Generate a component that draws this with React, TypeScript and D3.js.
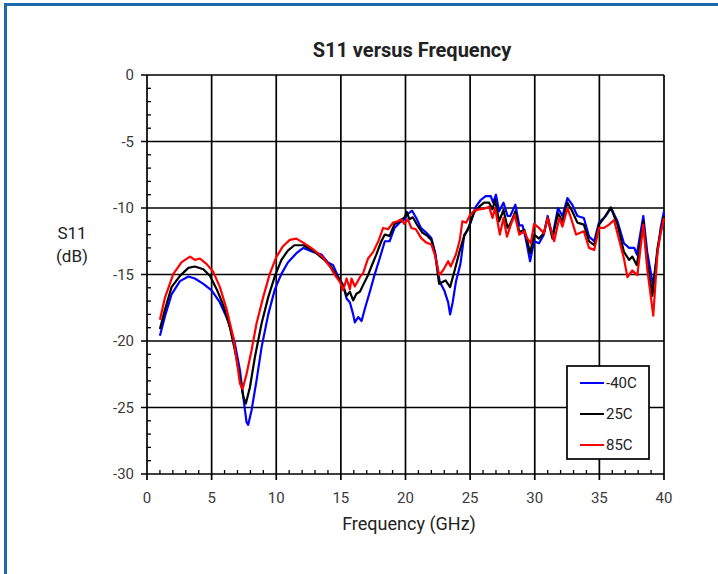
import React, { useRef, useEffect } from 'react';
import * as d3 from 'd3';

// [frequency GHz, S11 dB]
const seriesMinus40: [number, number][] = [
  [1.0, -19.6], [1.4, -18.1], [1.9, -16.5], [2.55, -15.5], [3.2, -15.15], [3.7, -15.3],
  [4.36, -15.7], [5.0, -16.2], [5.64, -17.1], [6.29, -18.5], [6.8, -20.2], [7.19, -22.2],
  [7.45, -24.2], [7.7, -26.1], [7.83, -26.3], [8.09, -25.2], [8.47, -23.0], [8.86, -20.5],
  [9.38, -18.0], [9.9, -16.1], [10.4, -14.95], [10.9, -14.1], [11.56, -13.4], [12.1, -13.0],
  [12.85, -13.3], [13.5, -13.5], [14.0, -14.1], [14.4, -14.3], [14.8, -15.2], [15.18, -15.8],
  [15.44, -16.8], [15.7, -17.1], [15.95, -18.0], [16.08, -18.6], [16.34, -18.2], [16.6, -18.5],
  [16.85, -17.6], [17.24, -16.3], [17.6, -15.05], [18.0, -13.8], [18.4, -12.5], [18.77, -12.5],
  [19.15, -11.5], [19.54, -11.1], [19.93, -10.85], [20.18, -10.45], [20.5, -10.2], [20.8, -10.7],
  [21.2, -11.5], [21.6, -11.85], [22.0, -12.25], [22.3, -13.4], [22.65, -15.55], [23.0, -16.2],
  [23.3, -17.1], [23.45, -18.0], [23.65, -17.1], [23.9, -15.55], [24.25, -14.2], [24.55, -12.0],
  [24.8, -11.7], [25.05, -11.0], [25.44, -9.9], [25.82, -9.4], [26.2, -9.1], [26.6, -9.1],
  [26.78, -9.6], [27.0, -9.0], [27.24, -10.25], [27.58, -9.6], [27.9, -10.6], [28.1, -10.6],
  [28.5, -9.75], [28.8, -11.3], [29.05, -11.3], [29.3, -12.3], [29.64, -14.0], [29.95, -12.5],
  [30.33, -12.65], [30.7, -12.0], [31.0, -10.6], [31.37, -12.15], [31.8, -10.0], [32.14, -10.6],
  [32.53, -9.25], [32.9, -9.75], [33.3, -10.6], [33.8, -10.75], [34.2, -12.15], [34.6, -12.5],
  [34.97, -11.1], [35.5, -10.6], [35.9, -10.0], [36.4, -11.0], [36.9, -12.65], [37.3, -13.0],
  [37.7, -13.0], [37.9, -13.5], [38.4, -10.6], [38.7, -13.3], [39.15, -15.8], [39.5, -13.3],
  [39.74, -11.5], [40.0, -10.25]
];

const series25: [number, number][] = [
  [1.0, -19.1], [1.4, -17.6], [1.9, -15.95], [2.55, -15.1], [3.2, -14.5], [3.7, -14.4],
  [4.36, -14.6], [4.87, -15.1], [5.39, -16.1], [5.9, -17.3], [6.42, -19.0], [6.8, -20.7],
  [7.19, -22.7], [7.45, -24.2], [7.65, -24.7], [7.96, -23.5], [8.35, -21.2], [8.86, -18.7],
  [9.38, -16.7], [9.9, -15.1], [10.4, -13.9], [10.9, -13.2], [11.4, -12.8], [12.1, -12.8],
  [12.85, -13.2], [13.6, -13.8], [14.15, -14.3], [14.54, -14.9], [14.92, -15.4], [15.18, -15.9],
  [15.44, -16.6], [15.7, -16.3], [15.95, -16.95], [16.2, -16.45], [16.47, -16.3], [16.72, -15.8],
  [17.1, -15.05], [17.36, -14.4], [17.74, -13.5], [18.13, -12.5], [18.4, -12.0], [18.77, -12.1],
  [19.15, -11.2], [19.54, -11.0], [19.93, -10.7], [20.1, -10.3], [20.3, -10.85], [20.56, -10.7],
  [20.95, -11.35], [21.3, -11.85], [21.7, -12.1], [22.0, -12.4], [22.3, -13.5], [22.6, -15.7],
  [22.9, -15.55], [23.1, -15.45], [23.45, -15.95], [23.8, -14.7], [24.2, -13.2], [24.54, -12.1],
  [24.92, -11.4], [25.3, -10.35], [25.7, -9.9], [26.08, -9.6], [26.47, -9.6], [26.73, -10.1],
  [26.93, -9.4], [27.24, -11.0], [27.58, -10.15], [27.9, -11.5], [28.15, -11.1], [28.5, -10.25],
  [28.8, -11.8], [29.2, -11.65], [29.43, -12.5], [29.64, -13.4], [29.95, -12.0], [30.33, -12.3],
  [30.7, -11.9], [31.0, -10.75], [31.37, -12.3], [31.8, -10.4], [32.14, -11.0], [32.53, -9.6],
  [32.9, -10.25], [33.3, -11.1], [33.8, -11.25], [34.2, -12.5], [34.6, -12.8], [34.97, -11.25],
  [35.36, -10.75], [35.88, -9.95], [36.4, -11.25], [36.9, -13.3], [37.3, -13.9], [37.55, -13.65],
  [37.9, -14.3], [38.4, -11.0], [38.7, -14.0], [39.1, -16.6], [39.5, -13.0], [39.74, -11.8],
  [40.0, -10.6]
];

const series85: [number, number][] = [
  [1.0, -18.4], [1.4, -16.7], [2.04, -14.95], [2.68, -14.07], [3.33, -13.65], [3.7, -13.9],
  [4.1, -13.8], [4.6, -14.2], [5.13, -14.8], [5.64, -15.95], [6.16, -17.6], [6.67, -19.7],
  [6.98, -21.7], [7.19, -23.2], [7.4, -23.6], [7.7, -22.5], [8.09, -20.7], [8.47, -18.7],
  [8.99, -16.7], [9.5, -14.95], [10.0, -13.7], [10.5, -12.9], [11.05, -12.4], [11.56, -12.3],
  [12.08, -12.6], [12.85, -13.1], [13.6, -13.7], [14.15, -14.4], [14.54, -15.05], [14.92, -15.55],
  [15.18, -16.2], [15.44, -15.3], [15.7, -16.1], [15.82, -15.3], [16.08, -15.9], [16.47, -15.2],
  [16.72, -14.9], [17.1, -13.8], [17.5, -13.3], [17.9, -12.5], [18.27, -11.5], [18.65, -11.6],
  [19.04, -11.1], [19.4, -11.0], [19.67, -10.85], [19.9, -11.2], [20.18, -10.85], [20.45, -11.5],
  [20.8, -11.6], [21.2, -12.25], [21.6, -12.6], [22.0, -12.75], [22.3, -13.6], [22.6, -15.05],
  [22.9, -14.7], [23.3, -14.0], [23.5, -14.4], [23.9, -13.5], [24.2, -12.4], [24.4, -11.0],
  [24.7, -11.1], [24.95, -10.6], [25.3, -10.2], [25.7, -10.1], [26.08, -10.05], [26.47, -9.9],
  [26.73, -10.75], [26.93, -10.0], [27.3, -12.0], [27.58, -10.75], [27.85, -12.15], [28.15, -11.25],
  [28.45, -10.5], [28.8, -12.0], [29.2, -11.75], [29.43, -12.3], [29.7, -12.65], [29.95, -11.2],
  [30.33, -11.5], [30.7, -11.9], [31.0, -10.75], [31.5, -12.5], [31.9, -10.75], [32.14, -11.4],
  [32.53, -10.0], [32.8, -10.75], [33.2, -12.0], [33.8, -11.75], [34.2, -13.0], [34.6, -13.15],
  [34.97, -11.5], [35.36, -11.5], [35.75, -11.25], [36.13, -10.9], [36.5, -12.3], [36.9, -13.8],
  [37.17, -15.2], [37.55, -14.7], [37.94, -15.05], [38.4, -11.25], [38.7, -14.55], [39.17, -18.1],
  [39.5, -13.3], [39.74, -11.9], [40.0, -10.75]
];

const legendLabels = ['-40C', '25C', '85C'];
const legendColors = ['#0000ff', '#000000', '#ff0000'];
const xTicks = [0, 5, 10, 15, 20, 25, 30, 35, 40];
const yTicks = [0, -5, -10, -15, -20, -25, -30];

const WIDTH = 718;
const HEIGHT = 574;
const FONT = 'Roboto, "Liberation Sans", sans-serif';

const App: React.FC = () => {
  const svgRef = useRef<SVGSVGElement>(null);

  useEffect(() => {
    const svg = d3.select(svgRef.current);
    svg.selectAll('*').remove();

    const left = 147, right = 664, top = 75, bottom = 474;

    const x = d3.scaleLinear().domain([0, 40]).range([left, right]);
    const y = d3.scaleLinear().domain([-30, 0]).range([bottom, top]);

    // blue frame round the figure
    svg.append('line').attr('x1', 4).attr('x2', WIDTH).attr('y1', 4.5).attr('y2', 4.5)
      .attr('stroke', '#1b6aac').attr('stroke-width', 3);
    svg.append('line').attr('x1', 5.5).attr('x2', 5.5).attr('y1', 3).attr('y2', HEIGHT)
      .attr('stroke', '#1b6aac').attr('stroke-width', 3);

    // minor ticks
    const minorX = d3.range(0, 41).filter(v => v % 5 !== 0);
    const minorY = d3.range(-30, 1).filter(v => v % 5 !== 0);
    svg.append('g').selectAll('line').data(minorX).enter().append('line')
      .attr('x1', d => x(d)).attr('x2', d => x(d))
      .attr('y1', bottom).attr('y2', bottom - 4)
      .attr('stroke', '#000').attr('stroke-width', 1.3);
    svg.append('g').selectAll('line').data(minorY).enter().append('line')
      .attr('x1', left).attr('x2', left + 4)
      .attr('y1', d => y(d)).attr('y2', d => y(d))
      .attr('stroke', '#000').attr('stroke-width', 1.3);

    // major gridlines (extend out as ticks)
    svg.append('g').selectAll('line').data(xTicks).enter().append('line')
      .attr('x1', d => x(d)).attr('x2', d => x(d))
      .attr('y1', top).attr('y2', bottom + 6)
      .attr('stroke', '#000').attr('stroke-width', 1.7);
    svg.append('g').selectAll('line').data(yTicks).enter().append('line')
      .attr('x1', left - 6).attr('x2', right)
      .attr('y1', d => y(d)).attr('y2', d => y(d))
      .attr('stroke', '#000').attr('stroke-width', 1.7);

    // tick labels
    svg.append('g').selectAll('text').data(xTicks).enter().append('text')
      .attr('x', d => x(d)).attr('y', 503)
      .attr('text-anchor', 'middle')
      .style('font-family', FONT).style('font-size', '15px').style('fill', '#3a3a3a')
      .text(d => d);
    svg.append('g').selectAll('text').data(yTicks).enter().append('text')
      .attr('x', 134).attr('y', d => y(d) + 5)
      .attr('text-anchor', 'end')
      .style('font-family', FONT).style('font-size', '15px').style('fill', '#3a3a3a')
      .text(d => d);

    // series
    const line = d3.line<[number, number]>()
      .x(d => x(d[0]))
      .y(d => y(d[1]));
    [seriesMinus40, series25, series85].forEach((s, i) => {
      svg.append('path')
        .datum(s)
        .attr('fill', 'none')
        .attr('stroke', legendColors[i])
        .attr('stroke-width', 2.2)
        .attr('stroke-linejoin', 'round')
        .attr('d', line);
    });

    // legend
    const lg = svg.append('g');
    lg.append('rect').attr('x', 567).attr('y', 366).attr('width', 82).attr('height', 93)
      .attr('fill', '#fff').attr('stroke', '#000').attr('stroke-width', 1.7);
    legendLabels.forEach((lab, i) => {
      const ly = 383 + i * 31;
      lg.append('line').attr('x1', 580).attr('x2', 604).attr('y1', ly).attr('y2', ly)
        .attr('stroke', legendColors[i]).attr('stroke-width', 2);
      lg.append('text').attr('x', 606).attr('y', ly + 5)
        .style('font-family', FONT).style('font-size', '15px').style('fill', '#222')
        .text(lab);
    });

    // title and axis labels
    svg.append('text').attr('x', 412).attr('y', 57).attr('text-anchor', 'middle')
      .style('font-family', FONT).style('font-size', '20px').style('font-weight', 'bold')
      .style('fill', '#222').text('S11 versus Frequency');
    svg.append('text').attr('x', 409).attr('y', 530).attr('text-anchor', 'middle')
      .style('font-family', FONT).style('font-size', '18px').style('fill', '#222')
      .text('Frequency (GHz)');
    svg.append('text').attr('x', 72).attr('y', 239).attr('text-anchor', 'middle')
      .style('font-family', FONT).style('font-size', '17px').style('fill', '#222')
      .text('S11');
    svg.append('text').attr('x', 72).attr('y', 262).attr('text-anchor', 'middle')
      .style('font-family', FONT).style('font-size', '17px').style('fill', '#222')
      .text('(dB)');
  }, []);

  return (
    <div style={{ position: 'absolute', left: 0, top: 0 }}>
      <svg ref={svgRef} width={WIDTH} height={HEIGHT} style={{ display: 'block', background: '#fff' }} />
    </div>
  );
};

export default App;
